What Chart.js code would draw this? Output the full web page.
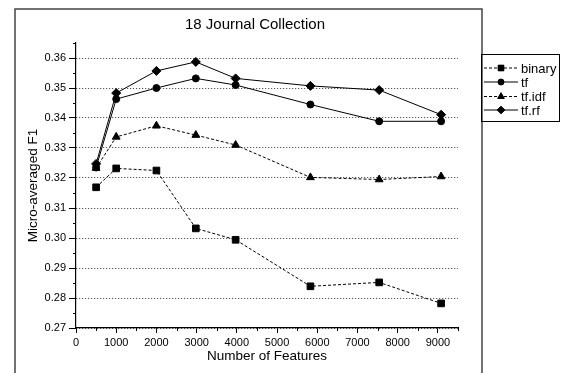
<!DOCTYPE html>
<html>
<head>
<meta charset="utf-8">
<script src="https://cdn.jsdelivr.net/npm/chart.js@4.4.0/dist/chart.umd.min.js"></script>
<style>
  body { margin: 0; background: #fff; }
  canvas { display: block; }
</style>
</head>
<body>
<canvas id="chart" width="569" height="373"></canvas>
<script>
// values
var features = [500, 1000, 2000, 2980, 3970, 5830, 7540, 9080];
var binary = [0.3169, 0.3232, 0.3225, 0.3032, 0.2994, 0.2839, 0.2852, 0.2782];
var tf = [0.3235, 0.3463, 0.3500, 0.3532, 0.3510, 0.3445, 0.3389, 0.3389];
var tfidf = [0.3233, 0.3337, 0.3374, 0.3343, 0.3310, 0.3202, 0.3195, 0.3205];
var tfrf = [0.3247, 0.3483, 0.3557, 0.3587, 0.3532, 0.3507, 0.3493, 0.3411];
var xTicks = [0, 1000, 2000, 3000, 4000, 5000, 6000, 7000, 8000, 9000];
var yTicks = [0.27, 0.28, 0.29, 0.30, 0.31, 0.32, 0.33, 0.34, 0.35, 0.36];

var FONT = "'Liberation Sans', Arial, sans-serif";

function pts(ys) {
    return features.map(function (x, i) { return { x: x, y: ys[i] }; });
}

function series(label, ys, style, radius, dash) {
    return {
        label: label,
        data: pts(ys),
        borderColor: '#000',
        backgroundColor: '#000',
        borderWidth: 1,
        borderDash: dash,
        pointStyle: style,
        pointRadius: radius,
        pointBorderWidth: 1,
        pointBackgroundColor: '#000',
        pointBorderColor: '#000',
        tension: 0
    };
}

var extras = {
    id: 'extras',
    afterDraw: function (chart) {
        var ctx = chart.ctx;
        var xs = chart.scales.x, ys = chart.scales.y;
        ctx.save();

        // outer frame
        ctx.strokeStyle = '#444';
        ctx.lineWidth = 1.5;
        ctx.beginPath();
        ctx.moveTo(15, 373);
        ctx.lineTo(15, 9);
        ctx.lineTo(482, 9);
        ctx.lineTo(482, 373);
        ctx.stroke();

        // title
        ctx.fillStyle = '#000';
        ctx.font = '15px ' + FONT;
        ctx.textAlign = 'center';
        ctx.textBaseline = 'middle';
        ctx.fillText('18 Journal Collection', 255, 25);

        // minor ticks
        ctx.strokeStyle = '#000';
        ctx.lineWidth = 1;
        ctx.beginPath();
        for (var v = 500; v <= 9500; v += 1000) {
            var px = Math.round(xs.getPixelForValue(v)) + 0.5;
            ctx.moveTo(px, xs.top);
            ctx.lineTo(px, xs.top + 3);
        }
        for (var k = 0; k < 10; k++) {
            var py = Math.round(ys.getPixelForValue(0.275 + k * 0.01)) + 0.5;
            ctx.moveTo(ys.right, py);
            ctx.lineTo(ys.right - 3, py);
        }
        ctx.stroke();

        // legend
        ctx.lineWidth = 1;
        ctx.strokeStyle = '#000';
        ctx.strokeRect(481.5, 54.5, 78, 67);
        ctx.font = '13px ' + FONT;
        ctx.textAlign = 'left';
        var rows = [68, 82, 96.5, 110];
        chart.data.datasets.forEach(function (ds, i) {
            var y = rows[i];
            ctx.setLineDash(ds.borderDash || []);
            ctx.beginPath();
            ctx.moveTo(484, y);
            ctx.lineTo(518, y);
            ctx.stroke();
            ctx.setLineDash([]);
            Chart.helpers.drawPoint(ctx, {
                pointStyle: ds.pointStyle,
                radius: ds.pointRadius * 0.85,
                rotation: 0,
                borderWidth: 1
            }, 501, y);
            ctx.fill();
            ctx.fillText(ds.label, 521, y + 1);
        });
        ctx.restore();
    }
};

new Chart(document.getElementById('chart').getContext('2d'), {
    type: 'line',
    data: {
        datasets: [
            series('binary', binary, 'rect', 4.7, [3, 2]),
            series('tf', tf, 'circle', 3.5, []),
            series('tf.idf', tfidf, 'triangle', 4.5, [3, 2]),
            series('tf.rf', tfrf, 'rectRot', 4.5, [])
        ]
    },
    options: {
        responsive: false,
        animation: false,
        layout: { padding: { left: 0, right: 111, top: 43, bottom: 0 } },
        plugins: {
            legend: { display: false },
            title: { display: false },
            tooltip: { enabled: false }
        },
        scales: {
            x: {
                type: 'linear',
                min: 0,
                max: 9500,
                afterBuildTicks: function (s) { s.ticks = xTicks.map(function (v) { return { value: v }; }); },
                afterFit: function (s) { s.height = 45; },
                grid: { drawOnChartArea: false, tickLength: 5, color: '#000' },
                border: { display: true, color: '#000', width: 1.2 },
                ticks: {
                    color: '#000',
                    font: { family: FONT, size: 11 },
                    padding: 3,
                    maxRotation: 0,
                    callback: function (v) { return String(v); }
                },
                title: {
                    display: true,
                    text: 'Number of Features',
                    color: '#000',
                    font: { family: FONT, size: 13.5 },
                    padding: { top: 0, bottom: 9 }
                }
            },
            y: {
                min: 0.27,
                max: 0.365,
                afterBuildTicks: function (s) { s.ticks = yTicks.map(function (v) { return { value: v }; }); },
                afterFit: function (s) { s.width = 76; },
                grid: { color: '#333', tickColor: '#000', tickLength: 7, lineWidth: 1 },
                border: { display: true, color: '#000', width: 1.2, dash: [1, 2] },
                ticks: {
                    color: '#000',
                    font: { family: FONT, size: 11 },
                    padding: 3,
                    callback: function (v) { return Number(v).toFixed(2); }
                },
                title: {
                    display: true,
                    text: 'Micro-averaged F1',
                    color: '#000',
                    font: { family: FONT, size: 13.5 },
                    padding: { top: 25, bottom: 0 }
                }
            }
        }
    },
    plugins: [extras]
});
</script>
</body>
</html>
